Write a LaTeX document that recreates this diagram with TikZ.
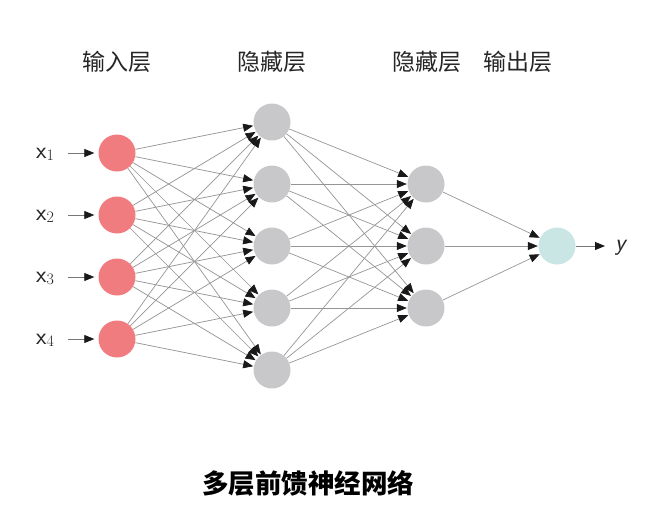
\documentclass[tikz,border=0pt]{standalone}
\usepackage{fontspec}
\newfontfamily\cjk{Noto Sans CJK SC}
\usetikzlibrary{arrows.meta}
\definecolor{inred}{HTML}{F07C80}
\definecolor{hidgray}{HTML}{C8C8CA}
\definecolor{outcyan}{HTML}{C9E6E5}
\definecolor{edgegray}{HTML}{959595}
\newcommand{\xlab}[1]{{\sffamily x}\raisebox{-2pt}{\fontsize{16}{18}\selectfont\rmfamily #1}}
\begin{document}
\begin{tikzpicture}[x=1pt,y=-1pt,
  neuron/.style={circle,minimum size=37pt,inner sep=0pt},
  inneuron/.style={neuron,fill=inred},
  hidneuron/.style={neuron,fill=hidgray},
  outneuron/.style={neuron,fill=outcyan},
  wire/.style={draw=edgegray,line width=0.7pt,-{Triangle[length=10pt,width=8pt,color=black!90]},shorten >=0.5pt},
  feed/.style={draw=edgegray!80!black,line width=0.8pt,-{Triangle[length=10pt,width=8pt,color=black!90]}},
  head/.style={font=\cjk\fontsize{23}{26}\selectfont,text=black!85},
  vlabel/.style={font=\fontsize{24}{26}\selectfont,text=black!85,inner sep=0pt}]
\useasboundingbox (0,0) rectangle (646,507);
% headers
\node[head] (h1) at (117,62) {输入层};
\node[head] (h2) at (272,62) {隐藏层};
\node[head] (h3) at (427,62) {隐藏层};
\node[head] (h4) at (518,62) {输出层};
% input layer
\foreach \i/\yy in {1/153,2/215,3/277,4/339} {
  \node[inneuron] (I\i) at (117,\yy) {};
  \node[vlabel,anchor=base west] (X\i) at (36,\yy+5) {\xlab{\i}};
  \coordinate (XS\i) at (68,\yy);
  \draw[feed,shorten >=4pt] (XS\i) -- (I\i);
}
% hidden layer 1
\foreach \i/\yy in {1/122,2/184,3/246,4/308,5/370} {
  \node[hidneuron] (A\i) at (272,\yy) {};
}
% hidden layer 2
\foreach \i/\yy in {1/184,2/246,3/308} {
  \node[hidneuron] (B\i) at (426,\yy) {};
}
% output
\node[outneuron] (O) at (557,246) {};
\node[vlabel,anchor=base west] (Y) at (615,250) {\sffamily\slshape y};
\coordinate (YE) at (605,246);
\draw[feed] (O) -- (YE);
% edges
\foreach \i in {1,...,4} \foreach \j in {1,...,5} \draw[wire] (I\i) -- (A\j);
\foreach \i in {1,...,5} \foreach \j in {1,...,3} \draw[wire] (A\i) -- (B\j);
\foreach \i in {1,...,3} \draw[wire] (B\i) -- (O);
% title
\node[font=\cjk\bfseries\fontsize{26.5}{30}\selectfont] (T) at (308,483) {多层前馈神经网络};
\end{tikzpicture}
\end{document}
